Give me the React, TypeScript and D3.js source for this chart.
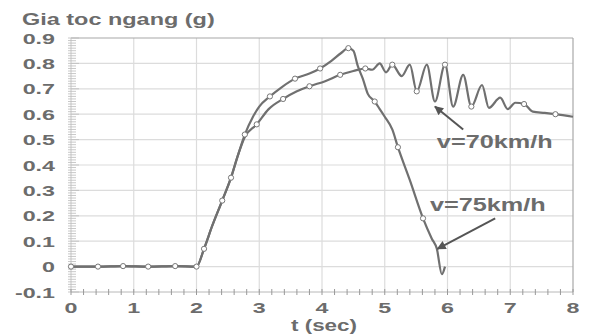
import React from "react";
import * as d3 from "d3";

// Horizontal acceleration vs time for two vehicle speeds
const series75: [number, number][] = [
  [0, 0], [0.43, 0], [0.83, 0.002], [1.23, 0], [1.66, 0.002], [2.0, 0],
  [2.12, 0.07], [2.25, 0.16], [2.41, 0.26], [2.55, 0.35], [2.65, 0.43], [2.77, 0.52],
  [2.9, 0.59], [3.0, 0.63], [3.17, 0.67], [3.35, 0.705], [3.57, 0.74], [3.8, 0.76],
  [3.97, 0.78], [4.15, 0.81], [4.3, 0.84], [4.42, 0.86], [4.5, 0.85], [4.57, 0.79],
  [4.65, 0.74], [4.73, 0.68], [4.84, 0.65], [4.92, 0.62], [5.0, 0.59], [5.12, 0.54],
  [5.21, 0.47], [5.4, 0.34], [5.61, 0.19], [5.75, 0.11], [5.83, 0.07], [5.91, -0.03],
  [5.96, 0.0],
];
const markers75 = [0, 0.43, 0.83, 1.23, 1.66, 2.0, 2.12, 2.41, 2.55, 2.77, 3.17, 3.57, 3.97, 4.42, 4.84, 5.21, 5.61];

const series70: [number, number][] = [
  [0, 0], [0.43, 0], [0.83, 0.002], [1.23, 0], [1.66, 0.002], [2.0, 0],
  [2.12, 0.07], [2.25, 0.16], [2.41, 0.26], [2.55, 0.35], [2.65, 0.43], [2.77, 0.51],
  [2.96, 0.56], [3.15, 0.62], [3.38, 0.66], [3.6, 0.69], [3.8, 0.71], [4.05, 0.73],
  [4.29, 0.755], [4.5, 0.77], [4.69, 0.78], [4.8, 0.775], [4.92, 0.8], [5.02, 0.765],
  [5.12, 0.795], [5.27, 0.75], [5.4, 0.795], [5.51, 0.69], [5.67, 0.795], [5.8, 0.65],
  [5.96, 0.795], [6.09, 0.63], [6.25, 0.755], [6.38, 0.63], [6.55, 0.715], [6.66, 0.625],
  [6.84, 0.665], [6.96, 0.62], [7.08, 0.645], [7.22, 0.64], [7.36, 0.61], [7.55, 0.605],
  [7.72, 0.6], [8.0, 0.59],
];
const markers70 = [2.96, 3.38, 3.8, 4.29, 4.69, 5.12, 5.51, 5.96, 6.38, 7.22, 7.72];

const xTicks = [0, 1, 2, 3, 4, 5, 6, 7, 8];
const yTicks = [-0.1, 0, 0.1, 0.2, 0.3, 0.4, 0.5, 0.6, 0.7, 0.8, 0.9];
const yTickLabels = ["-0.1", "0", "0.1", "0.2", "0.3", "0.4", "0.5", "0.6", "0.7", "0.8", "0.9"];

const titleText = "Gia toc ngang (g)";
const xTitleText = "t (sec)";

// Callouts: label anchor and arrow (tail -> head) in data units
const callouts = [
  { text: "v=70km/h", label: [5.83, 0.465], tail: [6.25, 0.54], head: [5.8, 0.63] },
  { text: "v=75km/h", label: [5.72, 0.217], tail: [6.76, 0.19], head: [5.84, 0.07] },
];

const W = 594;
const H = 335;
const ink = "#6c6c6c";
const font = "'Liberation Sans', Arial, sans-serif";

export default function App() {
  const x = d3.scaleLinear().domain([0, 8]).range([71, 573]);
  const y = d3.scaleLinear().domain([-0.1, 0.9]).range([292, 38]);
  const line = d3
    .line<[number, number]>()
    .x((d) => x(d[0]))
    .y((d) => y(d[1]))
    .curve(d3.curveMonotoneX);

  const minorX = d3.range(0, 8.001, 0.2);
  const minorY = d3.range(-0.1, 0.9001, 0.01);

  const pick = (s: [number, number][], ts: number[]) =>
    ts.map((t) => s.find((p) => Math.abs(p[0] - t) < 1e-6)!).filter(Boolean);

  return (
    <svg width={W} height={H} style={{ position: "absolute", left: 0, top: 0, background: "#fff" }}>
      <defs>
        <marker id="ah" viewBox="0 0 10 10" refX="9" refY="5" markerWidth="5" markerHeight="4.5" orient="auto">
          <path d="M0,0 L10,5 L0,10 z" fill="#555" />
        </marker>
      </defs>

      {/* grid */}
      {yTicks.slice(1, -1).map((v) => (
        <line key={"gy" + v} x1={x(0)} x2={x(8)} y1={y(v)} y2={y(v)} stroke="#dcdcdc" strokeWidth={1.2} />
      ))}
      {xTicks.slice(1, -1).map((t) => (
        <line key={"gx" + t} x1={x(t)} x2={x(t)} y1={y(0.9)} y2={y(-0.1)} stroke="#dcdcdc" strokeWidth={1.2} />
      ))}

      {/* frame */}
      <line x1={x(0)} x2={x(8)} y1={y(0.9)} y2={y(0.9)} stroke="#a8a8a8" strokeWidth={1.2} />
      <line x1={x(8)} x2={x(8)} y1={y(0.9)} y2={y(-0.1)} stroke="#a8a8a8" strokeWidth={1.2} />
      <line x1={x(0)} x2={x(8)} y1={y(-0.1)} y2={y(-0.1)} stroke="#b8b8b8" strokeWidth={1} />
      <line x1={x(0)} x2={x(0)} y1={y(0.9)} y2={y(-0.1)} stroke="#c8c8c8" strokeWidth={1} />

      {/* axis ticks */}
      {minorY.map((v, i) => (
        <line key={"my" + i} x1={x(0) - 3} x2={x(0) + (i % 10 === 0 ? 8 : 5)} y1={y(v)} y2={y(v)} stroke="#bbb" strokeWidth={0.8} />
      ))}
      {minorX.map((t, i) => (
        <line key={"mx" + i} x1={x(t)} x2={x(t)} y1={y(-0.1) - 3} y2={y(-0.1) + 3} stroke="#999" strokeWidth={1} />
      ))}

      {/* tick labels */}
      {yTicks.map((v, i) => (
        <text key={"ly" + v} transform={`translate(55,${y(v) + 5.5}) scale(1.5,1)`} textAnchor="end"
          fontFamily={font} fontWeight="bold" fontSize={15.5} fill={ink}>{yTickLabels[i]}</text>
      ))}
      {xTicks.map((t) => (
        <text key={"lx" + t} transform={`translate(${x(t)},313) scale(1.5,1)`} textAnchor="middle"
          fontFamily={font} fontWeight="bold" fontSize={15.5} fill={ink}>{t}</text>
      ))}

      {/* titles */}
      <text transform="translate(22,25) scale(1.38,1)" fontFamily={font} fontWeight="bold" fontSize={17} fill={ink}>{titleText}</text>
      <text transform="translate(324,331) scale(1.4,1)" textAnchor="middle" fontFamily={font} fontWeight="bold" fontSize={16} fill={ink}>{xTitleText}</text>

      {/* curves */}
      <path d={line(series70) ?? ""} fill="none" stroke="#707070" strokeWidth={2.2} />
      <path d={line(series75) ?? ""} fill="none" stroke="#707070" strokeWidth={2.2} />
      {pick(series75, markers75).map((p, i) => (
        <circle key={"m75" + i} cx={x(p[0])} cy={y(p[1])} r={2.6} fill="#fff" stroke="#777" strokeWidth={1} />
      ))}
      {pick(series70, markers70).map((p, i) => (
        <circle key={"m70" + i} cx={x(p[0])} cy={y(p[1])} r={2.6} fill="#fff" stroke="#777" strokeWidth={1} />
      ))}

      {/* callouts */}
      {callouts.map((c) => (
        <g key={c.text}>
          <line x1={x(c.tail[0])} y1={y(c.tail[1])} x2={x(c.head[0])} y2={y(c.head[1])}
            stroke="#555" strokeWidth={2} markerEnd="url(#ah)" />
          <text transform={`translate(${x(c.label[0])},${y(c.label[1])}) scale(1.33,1)`}
            fontFamily={font} fontWeight="bold" fontSize={19} fill={ink}>{c.text}</text>
        </g>
      ))}
    </svg>
  );
}
